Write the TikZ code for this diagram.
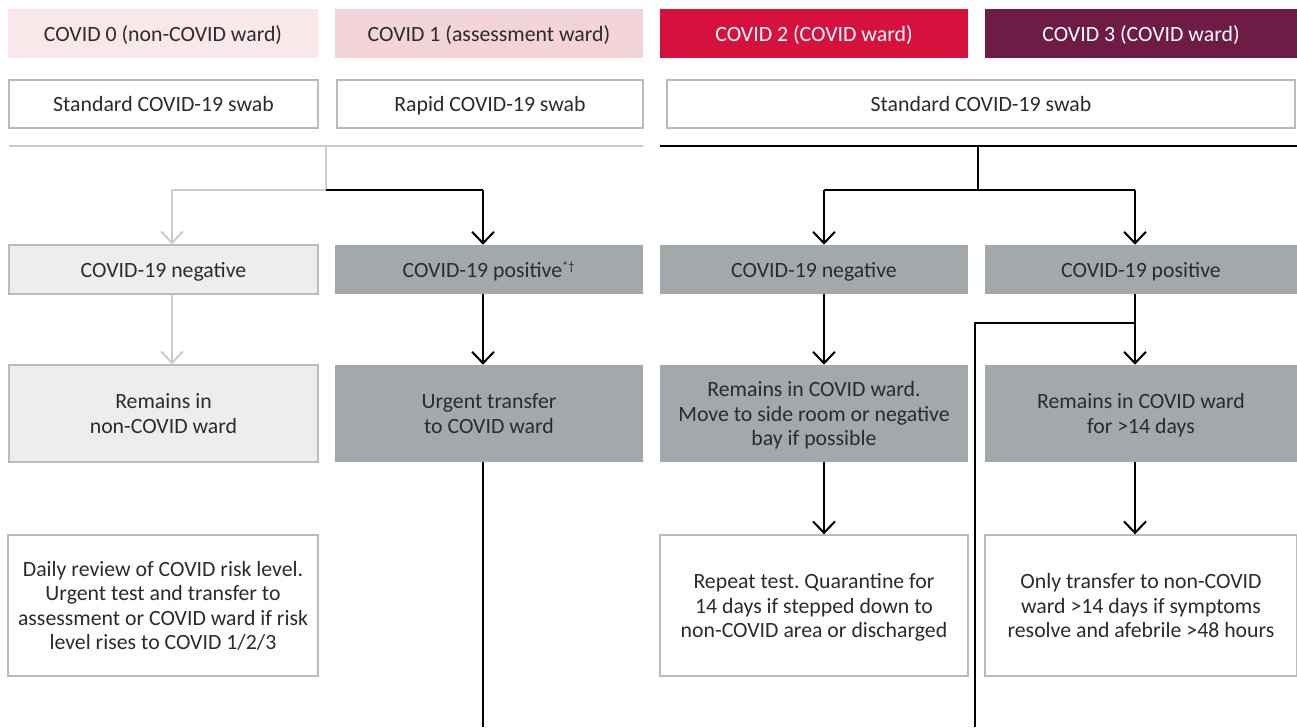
\documentclass[tikz,border=0pt]{standalone}
\usepackage{fontspec}
\setmainfont{Carlito}
\usetikzlibrary{arrows.meta}
\frenchspacing
\definecolor{hzero}{HTML}{F9E8EA}
\definecolor{hone}{HTML}{F2D3D7}
\definecolor{htwo}{HTML}{D7113E}
\definecolor{hthree}{HTML}{6E1C45}
\definecolor{gbox}{HTML}{A2A8AB}
\definecolor{lbox}{HTML}{ECEDEF}
\definecolor{bord}{HTML}{B8BCBF}
\definecolor{gline}{HTML}{C9CCCE}
\definecolor{txt}{HTML}{2B2B2B}
\tikzset{
  base/.style={anchor=center, inner sep=0pt, align=center, text depth=0pt, font=\fontsize{12.4}{14}\selectfont\frenchspacing, text=txt},
  head/.style={base, minimum height=0.98cm},
  swab/.style={base, draw=bord, line width=0.8pt, fill=white, minimum height=0.96cm},
  graybox/.style={base, fill=gbox},
  lightbox/.style={base, fill=lbox, draw=bord, line width=0.8pt},
  whitebox/.style={base, fill=white, draw=bord, line width=0.8pt, minimum height=2.82cm},
  blk/.style={line width=1.15pt, black},
  gry/.style={line width=1.15pt, gline},
  arr/.style={-{Straight Barb[length=6.5pt,width=12.5pt,line width=1.15pt]}},
}
\begin{document}
\begin{tikzpicture}
\useasboundingbox (0,0) rectangle (25.94,-14.54);
% headers
\node[head, fill=hzero, minimum width=6.20cm] (h0) at (3.26,-0.67) {COVID 0 (non-COVID ward)};
\node[head, fill=hone, minimum width=6.16cm] (h1) at (9.78,-0.67) {COVID 1 (assessment ward)};
\node[head, fill=htwo, minimum width=6.16cm, text=white] (h2) at (16.28,-0.67) {COVID 2 (COVID ward)};
\node[head, fill=hthree, minimum width=6.24cm, text=white] (h3) at (22.82,-0.67) {COVID 3 (COVID ward)};
% swabs
\node[swab, minimum width=6.18cm] (s0) at (3.27,-2.08) {Standard COVID-19 swab};
\node[swab, minimum width=6.12cm] (s1) at (9.80,-2.08) {Rapid COVID-19 swab};
\node[swab, minimum width=12.56cm] (s2) at (19.62,-2.08) {Standard COVID-19 swab};
% row 2
\node[lightbox, minimum width=6.18cm, minimum height=0.98cm] (n0) at (3.27,-5.39) {COVID-19 negative};
\node[graybox, minimum width=6.16cm, minimum height=0.98cm] (p1) at (9.78,-5.39) {COVID-19 positive\textsuperscript{\scriptsize *\textdagger}};
\node[graybox, minimum width=6.16cm, minimum height=0.98cm] (n2) at (16.28,-5.39) {COVID-19 negative};
\node[graybox, minimum width=6.24cm, minimum height=0.98cm] (p3) at (22.82,-5.39) {COVID-19 positive};
% row 3
\node[lightbox, minimum width=6.18cm, minimum height=1.94cm] (r0) at (3.27,-8.27) {Remains in\\non-COVID ward};
\node[graybox, minimum width=6.16cm, minimum height=1.94cm] (r1) at (9.78,-8.27) {Urgent transfer\\to COVID ward};
\node[graybox, minimum width=6.16cm, minimum height=1.94cm] (r2) at (16.28,-8.27) {Remains in COVID ward.\\Move to side room or negative\\bay if possible};
\node[graybox, minimum width=6.24cm, minimum height=1.94cm] (r3) at (22.82,-8.27) {Remains in COVID ward\\for >14 days};
% row 4
\node[whitebox, minimum width=6.20cm] (d0) at (3.26,-12.11) {Daily review of COVID risk level.\\Urgent test and transfer to\\assessment or COVID ward if risk\\level rises to COVID 1/2/3};
\node[whitebox, minimum width=6.16cm] (d2) at (16.28,-12.11) {Repeat test. Quarantine for\\14 days if stepped down to\\non-COVID area or discharged};
\node[whitebox, minimum width=6.24cm] (d3) at (22.82,-12.11) {Only transfer to non-COVID\\ward >14 days if symptoms\\resolve and afebrile >48 hours};
% coordinates
\coordinate (gl) at (0.18,-2.92);
\coordinate (gr) at (12.86,-2.92);
\coordinate (bl) at (13.20,-2.92);
\coordinate (br) at (25.94,-2.92);
\coordinate (gt) at (6.52,-2.92);
\coordinate (gj) at (6.52,-3.80);
\coordinate (x0) at (3.44,-3.80);
\coordinate (x1) at (9.66,-3.80);
\coordinate (bt) at (19.56,-2.92);
\coordinate (bj) at (19.56,-3.80);
\coordinate (x2) at (16.48,-3.80);
\coordinate (x3) at (22.70,-3.80);
\coordinate (brn) at (22.70,-6.46);
\coordinate (brl) at (19.50,-6.46);
\coordinate (brb) at (19.50,-14.54);
\coordinate (p1b) at (9.66,-14.54);
% lines
\draw[gry] (gl) -- (gr);
\draw[blk] (bl) -- (br);
\draw[gry] (gt) -- (gj) -- (x0);
\draw[gry, arr] (x0) -- (x0 |- n0.north);
\draw[blk] (gj) -- (x1);
\draw[blk, arr] (x1) -- (x1 |- p1.north);
\draw[blk] (bt) -- (bj);
\draw[blk] (x2) -- (x3);
\draw[blk, arr] (x2) -- (x2 |- n2.north);
\draw[blk, arr] (x3) -- (x3 |- p3.north);
% row2 -> row3
\draw[gry, arr] (x0 |- n0.south) -- (x0 |- r0.north);
\draw[blk, arr] (x1 |- p1.south) -- (x1 |- r1.north);
\draw[blk, arr] (x2 |- n2.south) -- (x2 |- r2.north);
\draw[blk, arr] (x3 |- p3.south) -- (x3 |- r3.north);
\draw[blk] (brn) -- (brl) -- (brb);
% row3 -> row4
\draw[blk] (x1 |- r1.south) -- (p1b);
\draw[blk, arr] (x2 |- r2.south) -- (x2 |- d2.north);
\draw[blk, arr] (x3 |- r3.south) -- (x3 |- d3.north);
\end{tikzpicture}
\end{document}
